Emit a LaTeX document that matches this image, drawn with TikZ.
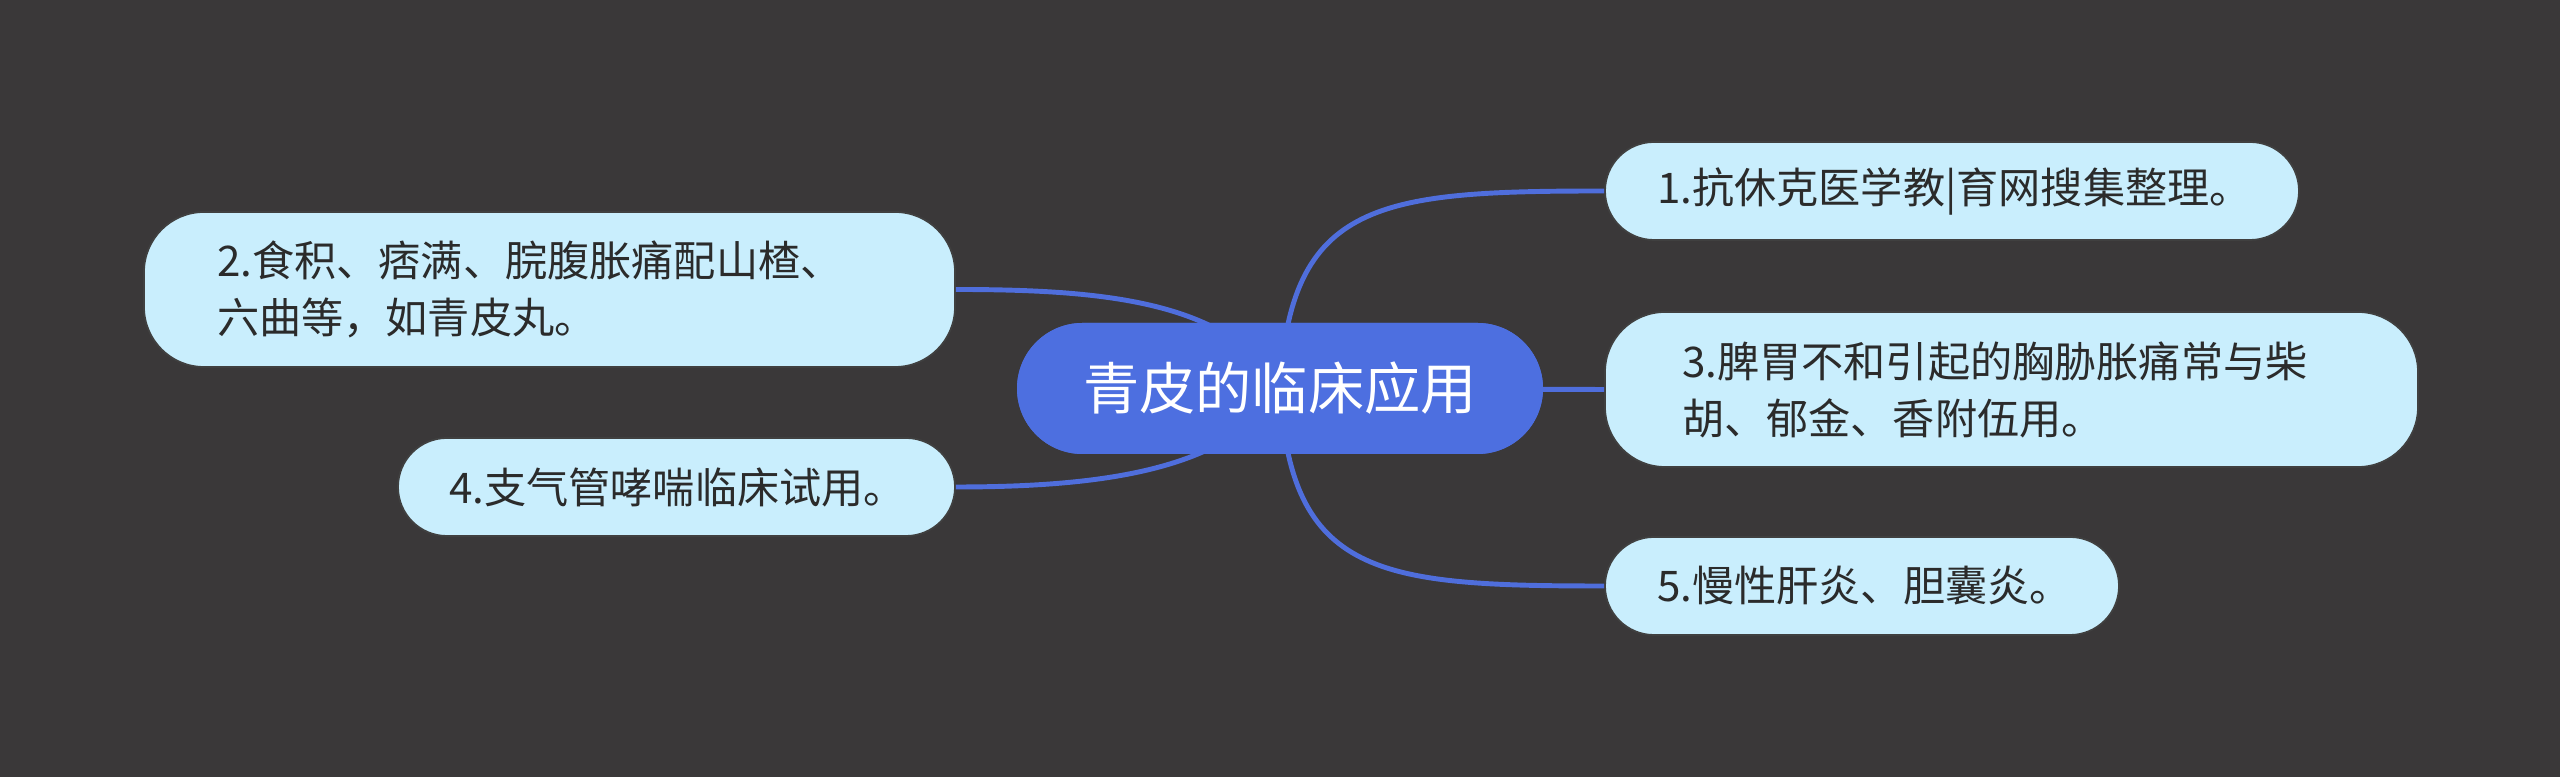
\documentclass[tikz,border=0pt]{standalone}
\usepackage{fontspec}
\setmainfont{Noto Sans CJK SC}
\usepackage{tikz}
\usetikzlibrary{positioning}
\definecolor{bgcol}{HTML}{3A3839}
\definecolor{rootcol}{HTML}{4D6FE0}
\definecolor{leafcol}{HTML}{C9EEFD}
\definecolor{linecol}{HTML}{4F6EDC}
\definecolor{txtcol}{HTML}{2B2B2B}

\begin{document}
\begin{tikzpicture}[
  root/.style={fill=rootcol, rounded corners=0.655cm, minimum width=5.26cm, minimum height=1.31cm, inner sep=0pt, text=white, font=\fontsize{16}{20}\selectfont},
  leaf/.style={draw=black!75, line width=0.5pt, fill=leafcol, rounded corners=0.49cm, align=left, inner ysep=0pt, minimum height=0.98cm, text=txtcol, font=\fontsize{12}{16.2}\selectfont},
  tall/.style={leaf, rounded corners=0.6cm, minimum height=1.55cm},
  link/.style={draw=linecol, line width=1.4pt}
]
\useasboundingbox[fill=bgcol] (0,0) rectangle (25.6,7.77);
% topic and branches
\node[root] (root) at (12.80,3.885) {青皮的临床应用};
\node[leaf, inner xsep=0.52cm, text width=5.90cm] (n1) at (19.52,5.86) {1.抗休克医学教|育网搜集整理。};
\node[tall, inner xsep=0.73cm, text width=6.65cm] (n2) at (5.495,4.875) {2.食积、痞满、脘腹胀痛配山楂、\\六曲等，如青皮丸。};
\node[tall, inner xsep=0.77cm, text width=6.59cm] (n3) at (20.115,3.875) {3.脾胃不和引起的胸胁胀痛常与柴\\胡、郁金、香附伍用。};
\node[leaf, inner xsep=0.51cm, text width=4.55cm] (n4) at (6.765,2.90) {4.支气管哮喘临床试用。};
\node[leaf, inner xsep=0.52cm, text width=4.10cm] (n5) at (18.62,1.91) {5.慢性肝炎、胆囊炎。};
\begin{scope}
\path[link] (root.center) .. controls +(0.1,1.88) and +(-2.25,0) .. (n1.west);
\path[link] (root.center) .. controls +(-0.5,0.88) and +(1.45,0) .. (n2.east);
\path[link] (root.center) -- (n3.west);
\path[link] (root.center) .. controls +(-0.5,-0.82) and +(1.45,0) .. (n4.east);
\path[link] (root.center) .. controls +(0.1,-1.88) and +(-2.25,0) .. (n5.west);
\end{scope}
\node[root] at (root) {青皮的临床应用};
\end{tikzpicture}
\end{document}
